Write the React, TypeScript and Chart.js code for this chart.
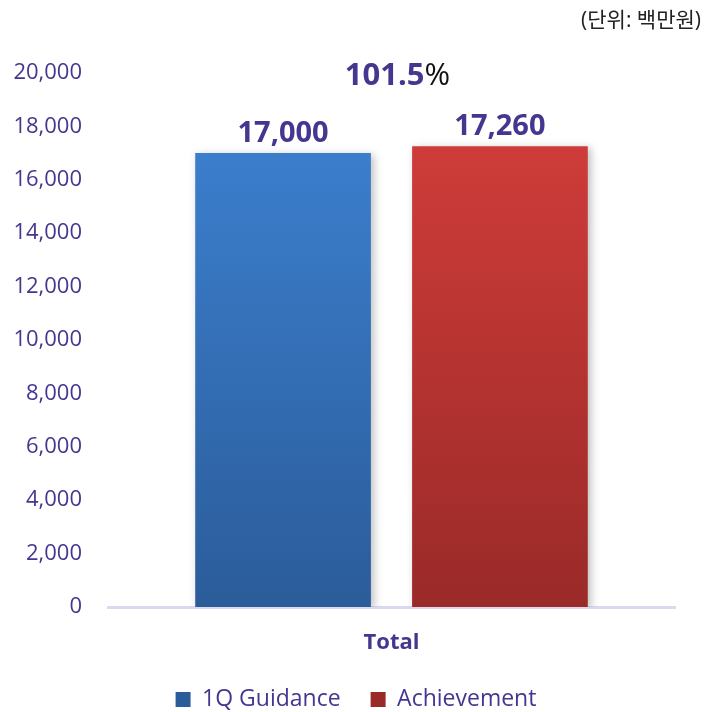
import React, { useEffect, useRef } from 'react';
import { Chart, registerables } from 'chart.js';

Chart.register(...registerables);

const categories = ['Total'];
const seriesNames = ['1Q Guidance', 'Achievement'];
const guidanceValues = [17000];
const achievementValues = [17260];
const yTickValues = [0, 2000, 4000, 6000, 8000, 10000, 12000, 14000, 16000, 18000, 20000];
const unitLabel = '(단위: 백만원)';

const PURPLE = '#46368F';
const FONT = "'Open Sans', 'Noto Sans CJK KR', sans-serif";

function barGradient(top: string, bottom: string, solid: string) {
  return (c: any) => {
    const chart = c.chart;
    const area = chart.chartArea;
    if (!area || c.type !== 'data') return solid;
    const yScale = chart.scales.y;
    const yTop = yScale.getPixelForValue(c.raw);
    const g = chart.ctx.createLinearGradient(0, yTop, 0, area.bottom);
    g.addColorStop(0, top);
    g.addColorStop(1, bottom);
    return g;
  };
}

const labelsPlugin = {
  id: 'customLabels',
  beforeDatasetsDraw(chart: any) {
    const ctx = chart.ctx;
    ctx.save();
    ctx.shadowColor = 'rgba(0,0,0,0.25)';
    ctx.shadowBlur = 8;
    ctx.shadowOffsetX = 3;
    ctx.shadowOffsetY = 2;
  },
  afterDatasetsDraw(chart: any) {
    const ctx = chart.ctx;
    ctx.restore();
    ctx.save();
    ctx.font = `bold 29px ${FONT}`;
    ctx.fillStyle = PURPLE;
    ctx.textAlign = 'center';
    ctx.textBaseline = 'alphabetic';
    chart.data.datasets.forEach((ds: any, i: number) => {
      const meta = chart.getDatasetMeta(i);
      meta.data.forEach((el: any, j: number) => {
        const v = ds.data[j] as number;
        ctx.fillText(v.toLocaleString('en-US'), el.x, el.y - 11);
      });
    });
    const xs = chart.scales.x;
    categories.forEach((_, j) => {
      const pct = ((achievementValues[j] / guidanceValues[j]) * 100).toFixed(1);
      const cx = xs.getPixelForValue(j) + 6;
      const y = chart.chartArea.top + 12;
      ctx.font = `bold 31px ${FONT}`;
      const w1 = ctx.measureText(pct).width;
      ctx.font = `31px ${FONT}`;
      const w2 = ctx.measureText('%').width;
      const start = cx - (w1 + w2) / 2;
      ctx.textAlign = 'left';
      ctx.font = `bold 31px ${FONT}`;
      ctx.fillStyle = PURPLE;
      ctx.fillText(pct, start, y);
      ctx.font = `31px ${FONT}`;
      ctx.fillStyle = '#111111';
      ctx.fillText('%', start + w1, y);
    });
    ctx.font = `21px ${FONT}`;
    ctx.fillStyle = '#222222';
    ctx.textAlign = 'right';
    ctx.textBaseline = 'middle';
    ctx.fillText(unitLabel, chart.width - 11, 21);
    ctx.restore();
  },
};

export default function App() {
  const canvasRef = useRef<HTMLCanvasElement | null>(null);

  useEffect(() => {
    document.body.style.margin = '0';
    const canvas = canvasRef.current;
    if (!canvas) return;
    const chart = new Chart(canvas, {
      type: 'bar',
      data: {
        labels: categories,
        datasets: [
          {
            label: seriesNames[0],
            data: guidanceValues,
            backgroundColor: barGradient('#3B7ECC', '#2B5C9A', '#3570B8'),
            borderWidth: 0,
            categoryPercentage: 0.765,
            barPercentage: 0.81,
          },
          {
            label: seriesNames[1],
            data: achievementValues,
            backgroundColor: barGradient('#CE3C39', '#9A2A28', '#BE3533'),
            borderWidth: 0,
            categoryPercentage: 0.765,
            barPercentage: 0.81,
          },
        ],
      },
      options: {
        responsive: false,
        animation: false,
        layout: { padding: { top: 73, left: 0, right: 0, bottom: -9 } },
        scales: {
          x: {
            grid: { display: false },
            border: { display: true, color: '#DCD8EF', width: 3 },
            ticks: {
              color: PURPLE,
              font: { family: FONT, size: 22, weight: 'bold' },
              padding: 15,
            },
            afterFit: (s: any) => {
              s.height = 51;
            },
          },
          y: {
            min: 0,
            max: 20000,
            grid: { display: false, drawTicks: false },
            border: { display: false },
            ticks: {
              color: PURPLE,
              font: { family: FONT, size: 22 },
              padding: 26,
              callback: (v: any) => Number(v).toLocaleString('en-US'),
            },
            afterBuildTicks: (s: any) => {
              s.ticks = yTickValues.map((v) => ({ value: v }));
            },
            afterFit: (s: any) => {
              s.width = 108;
            },
          },
          y2: {
            position: 'right',
            display: true,
            grid: { display: false, drawTicks: false },
            border: { display: false },
            ticks: { display: false },
            afterFit: (s: any) => {
              s.width = 37;
            },
          },
        },
        plugins: {
          legend: {
            position: 'bottom',
            labels: {
              color: PURPLE,
              font: { family: FONT, size: 23 },
              boxWidth: 15,
              boxHeight: 15,
              padding: 30,
            },
          },
          tooltip: { enabled: false },
          title: { display: false },
        },
      } as any,
      plugins: [labelsPlugin],
    });
    return () => chart.destroy();
  }, []);

  return <canvas ref={canvasRef} width={712} height={712} style={{ display: 'block' }} />;
}
